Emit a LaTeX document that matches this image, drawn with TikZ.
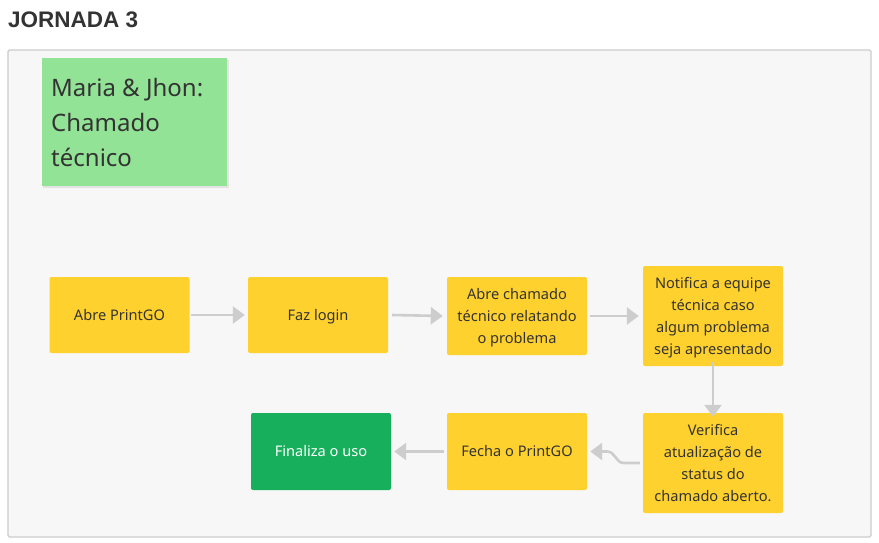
\documentclass[tikz,border=0pt]{standalone}
\usepackage{fontspec}
\setmainfont{Noto Sans}
\newfontfamily\titlefont{Liberation Sans}
\usetikzlibrary{arrows.meta}
\definecolor{txt}{HTML}{333333}
\definecolor{framebg}{HTML}{F7F7F7}
\definecolor{frameline}{HTML}{CCCCCC}
\definecolor{sticky}{HTML}{93E396}
\definecolor{yel}{HTML}{FFD12F}
\definecolor{grn}{HTML}{17AF5B}
\definecolor{arr}{HTML}{CDCDCD}
\tikzset{
  stepbox/.style={fill=yel, rounded corners=2pt, minimum width=140pt, align=center, text=txt, font=\fontsize{14.6}{22}\selectfont, inner sep=0pt},
  oneline/.style={text height=12pt, text depth=2pt},
  multiline/.style={text depth=0pt},
  flow/.style={draw=arr, line width=2.6pt, -{Triangle[length=12pt,width=17pt]}},
}
\begin{document}
\begin{tikzpicture}[x=1pt,y=-1pt]
\useasboundingbox (0,0) rectangle (879,542);
\fill[white] (0,0) rectangle (879,542);
\node[anchor=base west, font=\titlefont\bfseries\fontsize{22.5}{26}\selectfont, text=txt, inner sep=0pt] (title) at (8,27.5) {JORNADA 3};
\draw[frameline, fill=framebg, line width=1.2pt, rounded corners=1.5pt] (8,50) rectangle (871,537);
% sticky
\fill[black, opacity=0.08] (43,60) rectangle (229,188);
\node[fill=sticky, minimum width=185pt, minimum height=128pt, anchor=north west, inner sep=0pt] (sticky) at (42,58) {};
\node[anchor=base west, align=left, text=txt, font=\fontsize{24}{35}\selectfont, inner sep=0pt] (stickytext) at (51,166) {Maria \& Jhon:\\Chamado\\técnico};
% boxes
\node[stepbox, oneline, minimum height=76pt] (a) at (119.5,315) {Abre PrintGO};
\node[stepbox, oneline, minimum height=76pt] (b) at (318,315) {Faz login};
\node[stepbox, multiline, minimum height=78pt] (c) at (517,316) {Abre chamado\\técnico relatando\\o problema};
\node[stepbox, multiline, minimum height=100pt] (d) at (713,316) {Notifica a equipe\\técnica caso\\algum problema\\seja apresentado};
\node[stepbox, multiline, minimum height=100pt] (e) at (713,463) {Verifica\\atualização de\\status do\\chamado aberto.};
\node[stepbox, oneline, minimum height=77pt] (f) at (517,451.5) {Fecha o PrintGO};
\node[stepbox, oneline, minimum height=77pt, fill=grn, text=white] (g) at (321,451.5) {Finaliza o uso};
% arrows
\draw[flow] ([xshift=1pt]a.east) -- ([xshift=-3pt]b.west);
\draw[flow] ([xshift=4pt]b.east) -- ([xshift=-4pt]c.west);
\draw[flow] ([xshift=3pt]c.east) -- ([xshift=-4pt]d.west);
\draw[flow] ([yshift=4pt]d.south) -- ([yshift=-4pt]e.north);
\draw[flow] ([xshift=-3pt]e.west) -- ++(-16,0) .. controls +(-8,0) and +(8,0) .. ([xshift=20pt]f.east) -- ([xshift=3pt]f.east);
\draw[flow] ([xshift=-3pt]f.west) -- ([xshift=3pt]g.east);
\end{tikzpicture}
\end{document}
